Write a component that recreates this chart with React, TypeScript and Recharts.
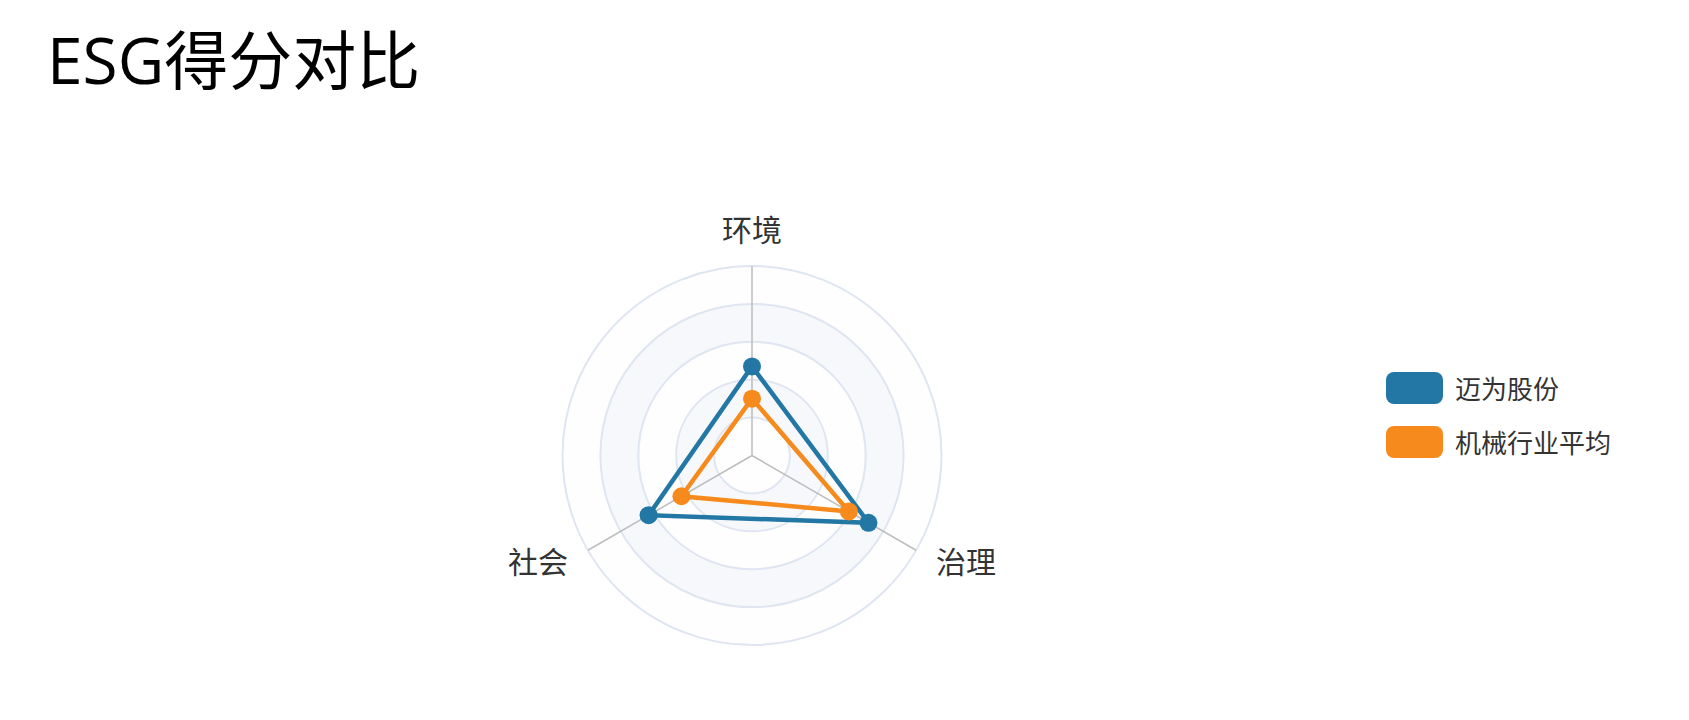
import { RadarChart, Radar, PolarAngleAxis, PolarRadiusAxis, Legend } from "recharts";

const categories = ["环境", "治理", "社会"];
const maiweiScores = [47, 71, 63];
const industryAvgScores = [30, 59, 43];
const radiusTicks = [0, 20, 40, 60, 80, 100];

const seriesInfo = [
  { key: "maiwei", name: "迈为股份", color: "#2277a5" },
  { key: "industry", name: "机械行业平均", color: "#f68a1d" },
];

const data = categories.map((subject, i) => ({
  subject,
  maiwei: maiweiScores[i],
  industry: industryAvgScores[i],
}));

const CX = 752;
const CY = 455.5;
const R = 189.5;
const FONT = '"Noto Sans CJK SC", "Noto Sans", sans-serif';

// split areas, split lines and spokes drawn in one layer so nothing covers the lines
function RadarGrid() {
  const bands = [];
  const rings = [];
  for (let i = radiusTicks.length - 1; i > 0; i--) {
    const r = (R * radiusTicks[i]) / 100;
    bands.push(
      <circle key={"b" + i} cx={CX} cy={CY} r={r} fill={i % 2 === 0 ? "#f6f8fc" : "#fefefe"} stroke="none" />
    );
    rings.push(<circle key={"r" + i} cx={CX} cy={CY} r={r} fill="none" stroke="#dfe5f1" strokeWidth={2} />);
  }
  const spokes = categories.map((c, i) => {
    const a = ((90 - (360 / categories.length) * i) * Math.PI) / 180;
    return (
      <line
        key={c}
        x1={CX}
        y1={CY}
        x2={CX + R * Math.cos(a)}
        y2={CY - R * Math.sin(a)}
        stroke="#bdbdbd"
        strokeWidth={1.5}
      />
    );
  });
  return (
    <g>
      {bands}
      {rings}
      {spokes}
    </g>
  );
}

function AngleTick(props: any) {
  const { x, y, payload, textAnchor } = props;
  let dx = 0;
  let dy = 0;
  if (textAnchor === "end") {
    dx = -13;
    dy = 19;
  } else if (textAnchor === "start") {
    dx = 13;
    dy = 19;
  } else {
    dy = y < CY ? -17 : 30;
  }
  return (
    <text x={x + dx} y={y + dy} textAnchor={textAnchor} fill="#333" fontSize={30} fontFamily={FONT}>
      {payload.value}
    </text>
  );
}

function LegendBox() {
  return (
    <div style={{ fontFamily: FONT }}>
      {seriesInfo.map((s) => (
        <div key={s.key} style={{ display: "flex", alignItems: "center", height: 32, marginBottom: 22 }}>
          <div style={{ width: 57, height: 32, borderRadius: 8, background: s.color }} />
          <span style={{ marginLeft: 12, fontSize: 26, color: "#333", lineHeight: "32px" }}>{s.name}</span>
        </div>
      ))}
    </div>
  );
}

export default function App() {
  return (
    <div style={{ position: "absolute", left: 0, top: 0, width: 1689, height: 720, background: "#fff" }}>
      <div
        style={{
          position: "absolute",
          left: 47,
          top: 28,
          fontSize: 64,
          lineHeight: "64px",
          color: "#000",
          fontFamily: '"Open Sans", "Noto Sans CJK SC", sans-serif',
        }}
      >
        ESG得分对比
      </div>
      <RadarChart width={1689} height={720} data={data} cx={CX} cy={CY} outerRadius={R}>
        <RadarGrid />
        <PolarRadiusAxis domain={[0, 100]} ticks={radiusTicks as any} tickCount={6} axisLine={false} tick={false} />
        <PolarAngleAxis dataKey="subject" tick={<AngleTick />} tickLine={false} axisLine={false} />
        {seriesInfo.map((s) => (
          <Radar
            key={s.key}
            name={s.name}
            dataKey={s.key}
            stroke={s.color}
            strokeWidth={4.5}
            fill={s.color}
            fillOpacity={0}
            dot={{ r: 9, fill: s.color, stroke: "none", fillOpacity: 1 }}
            isAnimationActive={false}
          />
        ))}
        <Legend
          content={<LegendBox />}
          layout="vertical"
          wrapperStyle={{ position: "absolute", left: 1386, top: 372, width: 300 }}
        />
      </RadarChart>
    </div>
  );
}
